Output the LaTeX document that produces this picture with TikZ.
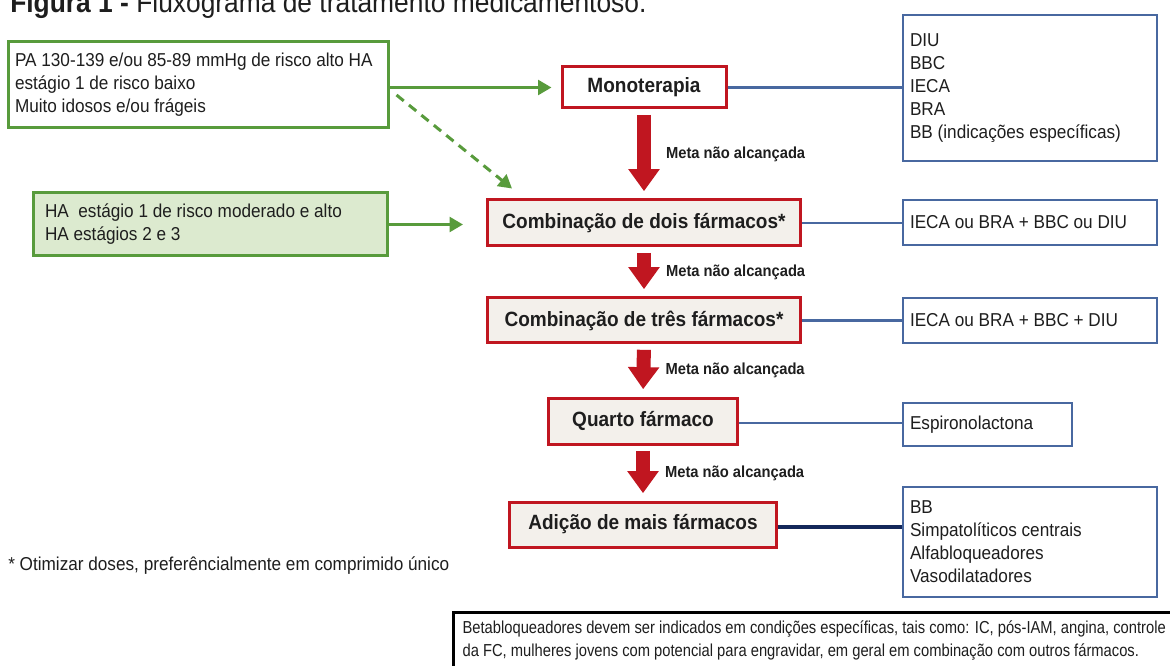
\documentclass[tikz,border=0pt]{standalone}
\usepackage{fontspec}
\setmainfont{Liberation Sans}[FakeStretch=0.92]
\usepackage{tikz}
\usetikzlibrary{arrows.meta, positioning}
\definecolor{hagreen}{RGB}{88,155,60}
\definecolor{halight}{RGB}{220,234,207}
\definecolor{hared}{RGB}{192,22,32}
\definecolor{habeige}{RGB}{243,240,235}
\definecolor{hablue}{RGB}{72,104,160}
\definecolor{hanavy}{RGB}{20,40,90}
\definecolor{hatext}{RGB}{30,30,30}

\begin{document}
\begin{tikzpicture}[x=0.75pt, y=-0.75pt, text=hatext,
    every node/.style={font=\fontsize{14}{17.25}\selectfont},
    inbox/.style={draw=hagreen, line width=2.25pt, align=flush left, inner xsep=5.25pt, inner ysep=0pt},
    stepbox/.style={draw=hared, line width=2.25pt, fill=habeige, inner sep=0pt, font=\fontsize{15.5}{18}\selectfont\bfseries},
    drugbox/.style={draw=hablue, line width=1.9pt, fill=white, align=flush left, inner xsep=5.25pt, inner ysep=0pt, text width=180pt},
    greenarrow/.style={draw=hagreen, line width=2.25pt, -{Triangle[length=10pt, width=11pt]}},
    redarrow/.style={draw=hared, line width=10.5pt, -{Triangle[length=16.5pt, width=22.5pt]}, shorten <=4pt, shorten >=5.5pt},
    blueline/.style={draw=hablue, line width=1.9pt},
    meta/.style={anchor=west, xshift=8pt, font=\fontsize{12}{14}\selectfont\bfseries}]
\useasboundingbox[fill=white] (0,0) rectangle (1170,666);

% Title
\node[anchor=base west, inner sep=0pt, font=\fontsize{21.5}{24}\selectfont] (title) at (10,13)
    {\textbf{Figura 1 -} Fluxograma de tratamento medicamentoso.};

% Patient groups
\node[inbox, text width=274.5pt, minimum height=64.5pt] (low) at (198,85)
    {PA 130-139 e/ou 85-89 mmHg de risco alto HA\\estágio 1 de risco baixo\\Muito idosos e/ou frágeis};
\node[inbox, fill=halight, text width=247.5pt, inner xsep=9pt, minimum height=47.25pt] (high) at (210,224.5)
    {HA\ \ estágio 1 de risco moderado e alto\\HA estágios 2 e 3};

% Treatment steps
\node[stepbox, fill=white, minimum width=123pt, minimum height=30.75pt] (mono) at (644,87.5) {Monoterapia};
\node[stepbox, minimum width=234.75pt, minimum height=34.5pt] (comb2) at (644,223) {Combinação de dois fármacos*};
\node[stepbox, minimum width=234.75pt, minimum height=33.75pt] (comb3) at (644,320.5) {Combinação de três fármacos*};
\node[stepbox, minimum width=141.75pt, minimum height=34.5pt] (quarto) at (643,421) {Quarto fármaco};
\node[stepbox, minimum width=200.25pt, minimum height=33.75pt] (adicao) at (643,524.5) {Adição de mais fármacos};

% Drug options
\node[drugbox, minimum height=109.5pt] (opt1) at (1030,88)
    {DIU\\BBC\\IECA\\BRA\\BB (indicações específicas)};
\node[drugbox, minimum height=33.75pt] (opt2) at (1030,222.5) {IECA ou BRA + BBC ou DIU};
\node[drugbox, minimum height=33.75pt] (opt3) at (1030,320.5) {IECA ou BRA + BBC + DIU};
\node[drugbox, text width=116.25pt, minimum height=32.25pt] (opt4) at (987.5,424.5) {Espironolactona};
\node[drugbox, minimum height=82.5pt] (opt5) at (1030,542)
    {BB\\Simpatolíticos centrais\\Alfabloqueadores\\Vasodilatadores};

% Green arrows
\draw[greenarrow, shorten >=6.75pt] (low.east |- mono.west) -- (mono.west);
\draw[greenarrow, dash pattern=on 7pt off 5pt] ([shift={(7,10)}]low.east) -- ([shift={(26,-10)}]comb2.north west);
\draw[greenarrow, shorten >=17.25pt] (high.east) -- (comb2.west |- high.east);

% Red arrows
\draw[redarrow] (mono.south) -- (comb2.north) node[meta, midway] {Meta não alcançada};
\draw[redarrow] (comb2.south) -- (comb3.north) node[meta, midway] {Meta não alcançada};
\draw[redarrow] (comb3.south) -- (quarto.north) node[meta, midway] {Meta não alcançada};
\draw[redarrow] (quarto.south) -- (adicao.north) node[meta, midway] {Meta não alcançada};

% Blue links
\draw[blueline] ([yshift=-1.5pt]quarto.east) -- ([yshift=-1.5pt]quarto.east -| opt4.west);
\draw[blueline] (mono.east) -- (mono.east -| opt1.west);
\draw[blueline] (comb2.east) -- (comb2.east -| opt2.west);
\draw[blueline] (comb3.east) -- (comb3.east -| opt3.west);
\draw[blueline, draw=hanavy, line width=3pt] ([yshift=-2pt]adicao.east) -- ([yshift=-2pt]adicao.east -| opt5.west);

% Notes
\node[anchor=base west, inner sep=0pt] (foot) at (8,570) {* Otimizar doses, preferêncialmente em comprimido único};
\node[draw=black, line width=1.9pt, anchor=north west, align=flush left, text width=600pt, inner xsep=7pt, inner ysep=6pt,
    font=\fontsize{13}{17.25}\selectfont\addfontfeature{FakeStretch=0.85}] (note) at (452,611)
    {Betabloqueadores devem ser indicados em condições específicas, tais como: IC, pós-IAM, angina, controle\\
     da FC, mulheres jovens com potencial para engravidar, em geral em combinação com outros fármacos.};
\end{tikzpicture}
\end{document}
